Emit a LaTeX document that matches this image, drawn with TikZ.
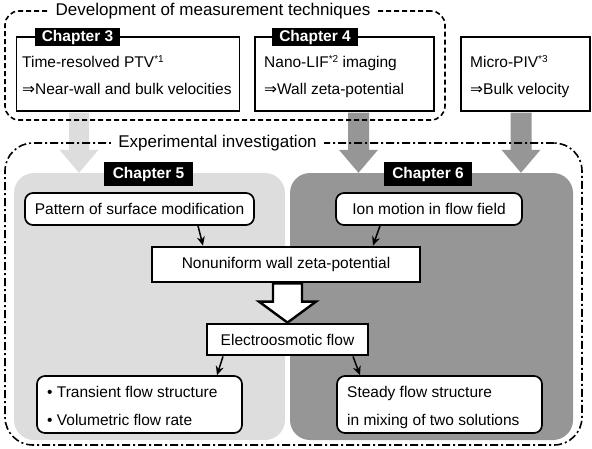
\documentclass[tikz,border=0pt]{standalone}
\usepackage{fontspec}
\setmainfont{Liberation Sans}
\newfontfamily\djv{DejaVu Sans}
\usetikzlibrary{arrows.meta,calc}
\definecolor{lgr}{HTML}{DDDDDD}
\definecolor{dgr}{HTML}{969696}
\newcommand{\impl}{{\djv ⇒}}
\newcommand{\supr}[1]{\raisebox{0.32em}{\fontsize{10}{10}\selectfont #1}}
\newcommand{\vblock}[6]{%
  \path[#1] let \p1=#2, \p2=#3 in
    (\x2-#4,\y1) -- (\x2-#4,\y2+#6) -- (\x2-#5,\y2+#6) -- (\x2,\y2)
    -- (\x2+#5,\y2+#6) -- (\x2+#4,\y2+#6) -- (\x2+#4,\y1) -- cycle;}
\tikzset{
  chbox/.style={draw, line width=1.6pt, fill=white, inner sep=0pt},
  chlab/.style={fill=black, text=white, font=\fontsize{15.5}{18}\selectfont\bfseries, inner sep=0pt},
  txt/.style={anchor=base west, inner sep=0pt},
  rbox/.style={draw, line width=1.7pt, rounded corners=8pt, fill=white, inner sep=0pt},
  tbox/.style={draw, line width=2.8pt, fill=white, inner sep=0pt},
  sarrow/.style={line width=1.5pt, -{Stealth[length=9pt,width=8pt]}},
  region/.style={rounded corners=20pt, inner sep=0pt},
  grpttl/.style={fill=white, inner xsep=7pt, inner ysep=1pt, font=\fontsize{17}{20}\selectfont},
}
\begin{document}
\begin{tikzpicture}[x=1pt,y=-1pt,font=\fontsize{15.5}{18}\selectfont]
\useasboundingbox (0,0) rectangle (592,448);
% regions
\node[region, fill=lgr, minimum width=271pt, minimum height=267pt] (reg5) at (149.5,306.5) {};
\node[region, fill=dgr, minimum width=283pt, minimum height=267pt] (reg6) at (431.5,306.5) {};
% chapter boxes
\node[chbox, minimum width=223pt, minimum height=74pt] (ch3) at (128,74) {};
\node[chbox, minimum width=179pt, minimum height=74pt] (ch4) at (344.5,74) {};
\node[chbox, minimum width=129pt, minimum height=74pt] (mpiv) at (525.5,74) {};
% gray block arrows
\vblock{fill=lgr}{([yshift=-0.8pt]ch3.south)}{([xshift=-70.5pt]reg5.north)}{10pt}{19.5pt}{23pt}
\vblock{fill=dgr}{([yshift=-0.8pt]ch4.south)}{([xshift=-73pt]reg6.north)}{10.5pt}{19.5pt}{23pt}
\vblock{fill=dgr}{([yshift=-0.8pt]mpiv.south)}{([xshift=89.5pt]reg6.north)}{10.5pt}{19.5pt}{23pt}
% group frames
\node[draw, line width=1.6pt, dash pattern=on 5pt off 3pt, rounded corners=14pt,
      minimum width=440pt, minimum height=109pt, inner sep=0pt] (devbox) at (225,65.5) {};
\node[grpttl] (devttl) at (213,11) {Development of measurement techniques};
\node[draw, line width=1.6pt, dash pattern=on 8pt off 3pt on 2pt off 3pt, rounded corners=28pt,
      minimum width=577pt, minimum height=302pt, inner sep=0pt] (expbox) at (293.5,294) {};
\node[grpttl] (expttl) at (217.5,143) {Experimental investigation};
% chapter labels
\node[chlab, minimum width=85pt, minimum height=18pt] (l3) at (77.5,37) {Chapter 3};
\node[chlab, minimum width=86pt, minimum height=18pt] (l4) at (315,37) {Chapter 4};
\node[chlab, minimum width=89pt, minimum height=24pt] (l5) at (148.5,174) {Chapter 5};
\node[chlab, minimum width=88pt, minimum height=24pt] (l6) at (428,174) {Chapter 6};
% chapter texts
\node[txt] (t3a) at (22,67) {Time-resolved PTV\supr{*1}};
\node[txt] (t3b) at (22,94) {\impl Near-wall and bulk velocities};
\node[txt] (t4a) at (264,67) {Nano-LIF\supr{*2} imaging};
\node[txt] (t4b) at (264,94) {\impl Wall zeta-potential};
\node[txt] (tma) at (470,67) {Micro-PIV\supr{*3}};
\node[txt] (tmb) at (470,94) {\impl Bulk velocity};
% inner boxes
\node[rbox, minimum width=229pt, minimum height=32pt] (pat) at (139.5,209) {Pattern of surface modification};
\node[rbox, minimum width=186pt, minimum height=32pt] (ion) at (429,209) {Ion motion in flow field};
\node[tbox, minimum width=268pt, minimum height=35pt] (nonu) at (286,264.5) {Nonuniform wall zeta-potential};
\node[tbox, minimum width=161pt, minimum height=31pt] (eo) at (287.5,339.5) {Electroosmotic flow};
\node[rbox, minimum width=205pt, minimum height=57pt] (bl) at (139.5,404.5) {};
\node[rbox, minimum width=205pt, minimum height=57pt] (br) at (439.5,404.5) {};
\node[txt] (bl1) at (47,397) {• Transient flow structure};
\node[txt] (bl2) at (47,425) {• Volumetric flow rate};
\node[txt] (br1) at (347,397) {Steady flow structure};
\node[txt] (br2) at (347,425) {in mixing of two solutions};
% white block arrow
\vblock{draw, fill=white, line width=2.4pt}{(nonu.south)}{([xshift=0pt]eo.north)}{14.5pt}{28.5pt}{21pt}
% small arrows
\draw[sarrow] ([xshift=58.5pt]pat.south) -- ([xshift=-83pt]nonu.north);
\draw[sarrow] ([xshift=-49pt]ion.south) -- ([xshift=87pt]nonu.north);
\draw[sarrow] ([xshift=-64.5pt]eo.south) -- ([xshift=77.5pt]bl.north);
\draw[sarrow] ([xshift=65.5pt]eo.south) -- ([xshift=-79.5pt]br.north);
\end{tikzpicture}
\end{document}
